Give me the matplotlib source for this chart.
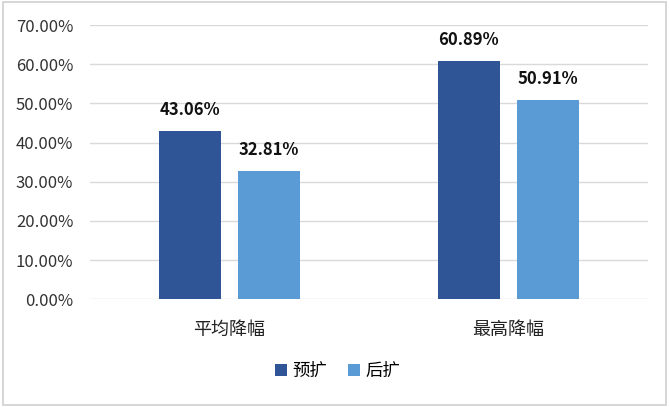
import matplotlib
matplotlib.use("Agg")
import matplotlib.pyplot as plt
import numpy as np
from matplotlib.patches import Rectangle

plt.rcParams['font.family'] = ['Noto Sans CJK SC', 'DejaVu Sans']

categories = ['平均降幅', '最高降幅']
series_names = ['预扩', '后扩']
yukuo = [43.06, 60.89]
houkuo = [32.81, 50.91]
yticks = [0, 10, 20, 30, 40, 50, 60, 70]
colors = ['#2F5597', '#5B9BD5']

fig = plt.figure(figsize=(6.69, 4.07), dpi=100)
fig.patch.set_facecolor('white')
fig.add_artist(Rectangle((0.004, 0.006), 0.992, 0.988, transform=fig.transFigure,
                         fill=False, edgecolor='#D0D0D0', linewidth=1.2))
ax = fig.add_axes([0.1345, 0.265, 0.834, 0.673])

x = np.arange(len(categories))
w = 0.222
off = 0.142
b1 = ax.bar(x - off, yukuo, w, color=colors[0], label=series_names[0], zorder=3)
b2 = ax.bar(x + off, houkuo, w, color=colors[1], label=series_names[1], zorder=3)

for bars, vals in ((b1, yukuo), (b2, houkuo)):
    for r, v in zip(bars, vals):
        ax.text(r.get_x() + r.get_width() / 2, v + 3.0, f'{v:.2f}%', ha='center', va='bottom',
                fontsize=12, fontweight='bold', color='#111111')

ax.set_xlim(-0.5, 1.5)
ax.set_ylim(0, 70)
ax.set_yticks(yticks)
ax.set_yticklabels([f'{t:.2f}%' for t in yticks], fontsize=12, color='#333333')
ax.set_xticks(x)
ax.set_xticklabels(categories, fontsize=13, color='#222222')
ax.tick_params(axis='both', length=0)
ax.tick_params(axis='y', pad=12)
ax.tick_params(axis='x', pad=16)
ax.grid(axis='y', color='#D9D9D9', linewidth=1, zorder=0)
for s in ax.spines.values():
    s.set_visible(False)

leg = fig.legend(handles=[b1, b2], labels=series_names, loc='center', bbox_to_anchor=(0.505, 0.088),
                 ncol=2, frameon=False, fontsize=12.5, handlelength=0.7, handleheight=0.7,
                 handletextpad=0.3, columnspacing=1.2)

fig.savefig('out.png', dpi=100)
